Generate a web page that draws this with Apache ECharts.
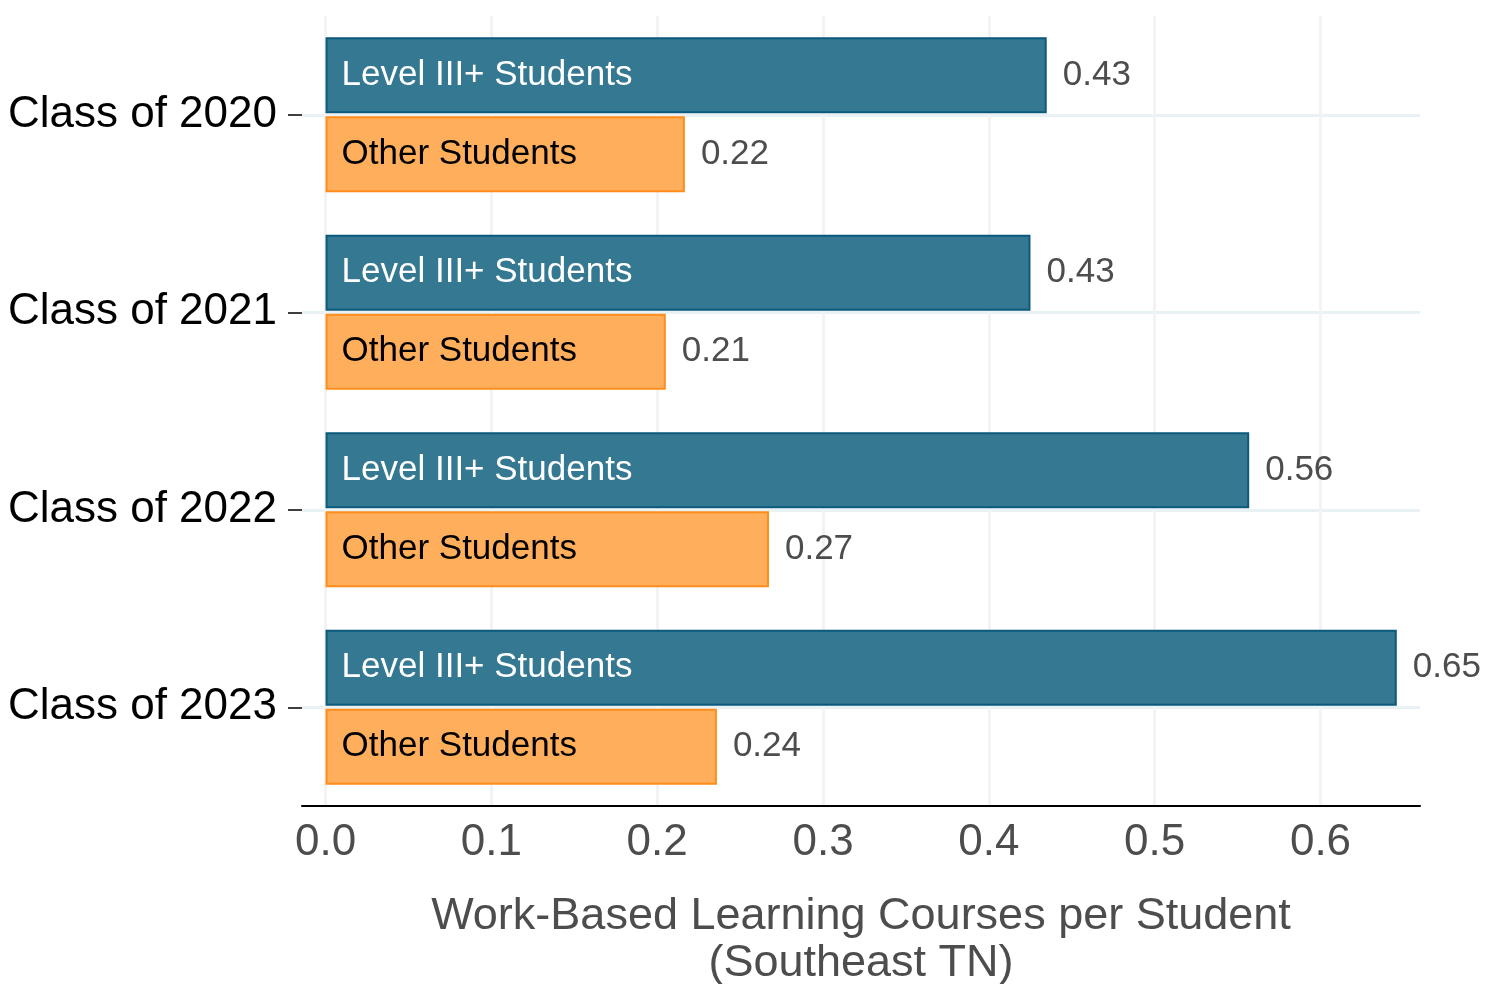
<!DOCTYPE html>
<html>
<head>
<meta charset="utf-8">
<script src="https://cdn.jsdelivr.net/npm/echarts@6/dist/echarts.min.js"></script>
<style>html,body{margin:0;padding:0;background:#fff}#c{width:1495px;height:984px}</style>
</head>
<body>
<div id="c"></div>
<script>
const categories = ['Class of 2020', 'Class of 2021', 'Class of 2022', 'Class of 2023'];
const levelName = 'Level III+ Students';
const otherName = 'Other Students';
const levelValues = [0.4349, 0.4251, 0.5570, 0.6460];
const otherValues = [0.2167, 0.2052, 0.2674, 0.2360];
const axisTitle = 'Work-Based Learning Courses per Student\n(Southeast TN)';

const FONT = '"Liberation Sans", Arial, Helvetica, sans-serif';
const chart = echarts.init(document.getElementById('c'));

const barW = 76, gap = '4%';
const catAxis = (show) => ({
  type: 'category', data: categories, inverse: true, show: show,
  axisLine: { show: false, onZero: false },
  axisTick: { show: true, alignWithLabel: true, length: 14, lineStyle: { color: '#000', width: 1.5 } },
  axisLabel: { color: '#000', fontSize: 44, fontFamily: FONT, margin: 25, padding: [10, 0, 0, 0] },
  splitLine: { show: show, alignWithLabel: true, lineStyle: { color: '#E8F1F3', width: 3 } }
});

function ghost(vals) {
  return {
    type: 'bar', yAxisIndex: 1, data: vals, barWidth: barW, barGap: gap,
    itemStyle: { color: 'rgba(0,0,0,0)' }, silent: true,
    label: { show: true, position: 'right', distance: 16, color: '#4D4D4D', fontSize: 35, fontFamily: FONT,
      padding: [8, 0, 0, 0], formatter: p => p.value.toFixed(2) }
  };
}

chart.setOption({
  animation: false,
  grid: { left: 302, right: 75, top: 16, bottom: 178, containLabel: false, outerBoundsMode: 'none' },
  xAxis: {
    type: 'value', min: -0.0142, max: 0.66, splitNumber: 7,
    name: axisTitle, nameLocation: 'middle', nameGap: 87,
    nameTextStyle: { color: '#4D4D4D', fontSize: 45, fontFamily: FONT, lineHeight: 47 },
    axisLine: { show: true, onZero: false, lineStyle: { color: '#000', width: 2 } },
    axisTick: { show: false },
    axisLabel: { color: '#4D4D4D', fontSize: 44, fontFamily: FONT, margin: 15, showMinLabel: false, showMaxLabel: false,
      formatter: v => Math.abs(v * 10 - Math.round(v * 10)) < 1e-6 ? v.toFixed(1) : '' },
    splitLine: { show: true, showMinLine: false, showMaxLine: false, lineStyle: { color: '#F3F3F3', width: 3 } }
  },
  yAxis: [catAxis(true), catAxis(false)],
  series: [
    {
      name: levelName, type: 'bar', data: levelValues, barWidth: barW, barGap: gap,
      itemStyle: { color: '#357891', borderColor: '#0B5A7D', borderWidth: 2 },
      label: { show: true, position: 'insideLeft', distance: 16, color: '#fff', fontSize: 35, fontFamily: FONT,
        padding: [8, 0, 0, 0], formatter: () => levelName }
    },
    {
      name: otherName, type: 'bar', data: otherValues, barWidth: barW, barGap: gap,
      itemStyle: { color: '#FFAE5C', borderColor: '#FF8D1C', borderWidth: 2 },
      label: { show: true, position: 'insideLeft', distance: 16, color: '#000', fontSize: 35, fontFamily: FONT,
        padding: [8, 0, 0, 0], formatter: () => otherName }
    },
    ghost(levelValues),
    ghost(otherValues)
  ]
});
</script>
</body>
</html>
